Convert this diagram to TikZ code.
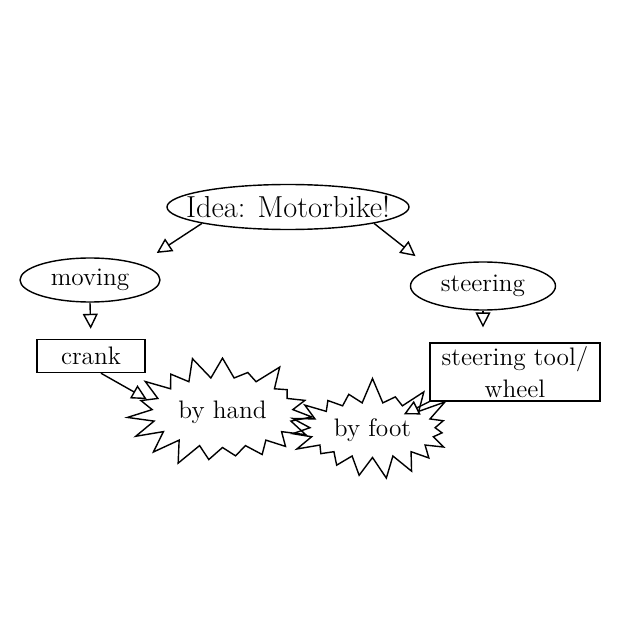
\documentclass[tikz,border=0pt]{standalone}
\usetikzlibrary{arrows.meta,positioning,shapes.geometric,shapes.symbols}
\tikzset{
  >={Triangle[open,length=3mm,width=3mm]},
  bubble/.style={ellipse,draw,thick,inner xsep=-5mm,inner ysep=1pt,font=\Large},
  frame/.style={rectangle,draw,thick,align=center,inner sep=2pt,font=\Large},
  burst/.style={starburst,draw,thick,starburst points=#1,starburst point height=5mm,
    random starburst,font=\Large},
  burst/.default=19,
  flow/.style={->,thick,shorten >=#1},
  flow/.default=0pt,
}

\begin{document}
\begin{tikzpicture}
    \useasboundingbox (0,0) rectangle (12.4,12.4);
    \node[bubble,minimum width=4.84cm,minimum height=0.9cm,font=\LARGE] (idea) at (5.76,8.26) {Idea: Motorbike!};
    \node[bubble,minimum width=2.8cm,minimum height=0.88cm] (moving) at (1.8,6.8) {moving};
    \node[bubble,minimum width=2.9cm,minimum height=0.96cm] (steering) at (9.66,6.68) {steering};
    \node[frame,minimum width=2.16cm,minimum height=0.66cm] (crank) at (1.82,5.28) {crank};
    \node[frame,minimum width=3.4cm,minimum height=1.1cm] (tool) at (10.3,4.96) {steering tool/\\wheel};
    \node[burst,minimum width=3cm,minimum height=2.4cm] (hand) at (4.45,4.15) {by hand};
    \node[burst,minimum width=2.7cm,minimum height=2.1cm] (foot) at (7.45,3.8) {by foot};
    \draw[flow=4mm] (idea.south west) -- (moving.north east);
    \draw[flow=4mm] (idea.south east) -- (steering.north west);
    \draw[flow=2mm] (moving.south) -- (crank.north);
    \draw[flow=3mm] (steering.south) -- (steering.south |- tool.north);
    \draw[flow] (crank.-60) -- (hand.170);
    \draw[flow=7mm] (tool.south west) -- (foot.center);
\end{tikzpicture}
\end{document}
